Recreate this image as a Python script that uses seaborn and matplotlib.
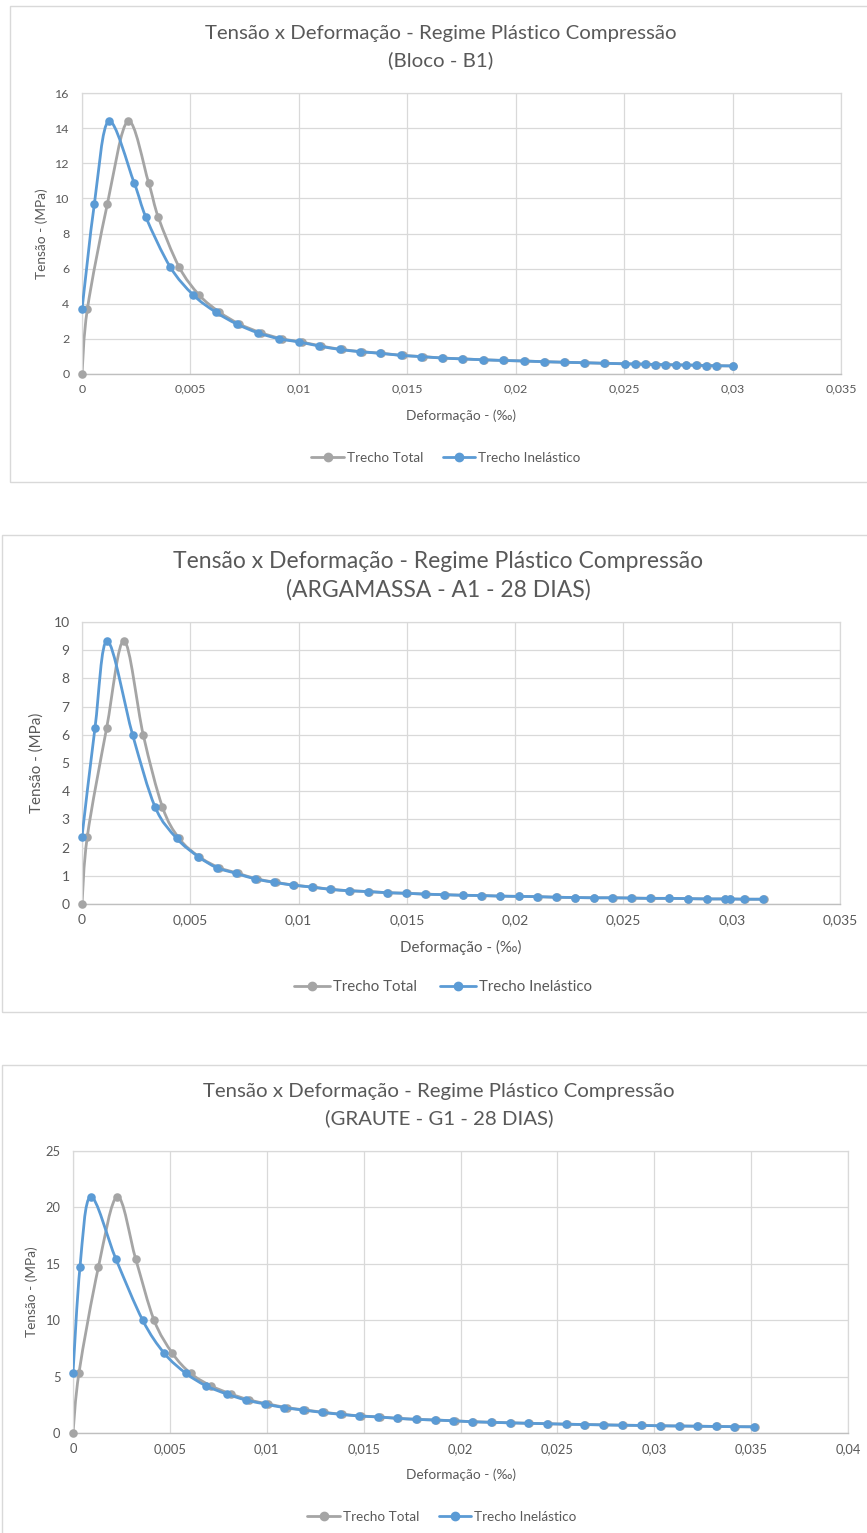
import numpy as np
import matplotlib
matplotlib.use("Agg")
import matplotlib.pyplot as plt
from matplotlib.path import Path
from matplotlib.patches import PathPatch, Rectangle
from matplotlib.lines import Line2D
from matplotlib.ticker import FuncFormatter, MultipleLocator
import seaborn as sns

# ---------------- data ----------------
titles = [
    "Tensão x Deformação - Regime Plástico Compressão\n(Bloco - B1)",
    "Tensão x Deformação - Regime Plástico Compressão\n(ARGAMASSA - A1 - 28 DIAS)",
    "Tensão x Deformação - Regime Plástico Compressão\n(GRAUTE - G1 - 28 DIAS)",
]
series_names = ["Trecho Total", "Trecho Inelástico"]

# Bloco B1
b1_inel_x = [0, 0.00057, 0.00123, 0.0024, 0.00295, 0.00406, 0.00513, 0.00616, 0.00713, 0.0081,
             0.00907, 0.01002, 0.01094, 0.01188, 0.01282, 0.01374, 0.01471, 0.01565, 0.01659, 0.01752,
             0.01848, 0.01943, 0.02037, 0.02129, 0.02223, 0.02315, 0.02409, 0.02502, 0.0255, 0.02596,
             0.02644, 0.0269, 0.02738, 0.02784, 0.02831, 0.02877, 0.02924, 0.0300]
b1_inel_y = [3.68, 9.68, 14.4, 10.9, 8.92, 6.11, 4.5, 3.53, 2.85, 2.35,
             2.01, 1.82, 1.59, 1.40, 1.27, 1.18, 1.06, 0.99, 0.91, 0.86,
             0.81, 0.77, 0.74, 0.70, 0.67, 0.64, 0.61, 0.58, 0.57, 0.56,
             0.54, 0.53, 0.52, 0.51, 0.50, 0.48, 0.47, 0.46]
b1_total_x = [0, 0.000246, 0.00117, 0.00212, 0.00307, 0.00352, 0.00447, 0.0054, 0.00633, 0.00725,
              0.00825, 0.0092, 0.01013, 0.01104, 0.01197, 0.0129, 0.01381, 0.01478, 0.01571, 0.01665,
              0.01757, 0.01853, 0.01948, 0.02042, 0.02133, 0.02227, 0.02319, 0.02413, 0.02506, 0.02554,
              0.026, 0.02647, 0.02693, 0.02741, 0.02787, 0.02834, 0.0288, 0.02927, 0.03003]
b1_total_y = [0] + b1_inel_y

# Argamassa A1
a1_inel_x = [0, 0.0006, 0.00117, 0.00234, 0.00337, 0.00437, 0.00537, 0.00622, 0.0071, 0.00799,
             0.00887, 0.00973, 0.01061, 0.01145, 0.01233, 0.01322, 0.01409, 0.01496, 0.01584, 0.01671,
             0.01758, 0.01842, 0.0193, 0.02016, 0.02102, 0.02189, 0.02276, 0.02363, 0.02449, 0.02537,
             0.02623, 0.02709, 0.02797, 0.02884, 0.02969, 0.02992, 0.03059, 0.03146]
a1_inel_y = [2.39, 6.25, 9.33, 5.99, 3.45, 2.33, 1.68, 1.29, 1.09, 0.89,
             0.77, 0.67, 0.60, 0.52, 0.47, 0.44, 0.40, 0.38, 0.35, 0.33,
             0.31, 0.30, 0.28, 0.27, 0.26, 0.24, 0.23, 0.22, 0.22, 0.21,
             0.20, 0.20, 0.19, 0.18, 0.18, 0.18, 0.17, 0.17]
a1_total_x = [0, 0.000245, 0.00114, 0.00194, 0.00283, 0.00371, 0.00448, 0.0054, 0.00633, 0.0072,
              0.00807, 0.00894, 0.00979, 0.01066, 0.0115, 0.01237, 0.01326, 0.01413, 0.01499, 0.01587,
              0.01674, 0.01761, 0.01845, 0.01932, 0.02018, 0.02104, 0.02191, 0.02278, 0.02365, 0.02451,
              0.02539, 0.02625, 0.02711, 0.02799, 0.02886, 0.02971, 0.02994, 0.03061, 0.03148]
a1_total_y = [0] + a1_inel_y

# Graute G1
g1_inel_x = [0, 0.00036, 0.00091, 0.00222, 0.00359, 0.00471, 0.00583, 0.00685, 0.00793, 0.00891,
             0.00991, 0.01089, 0.01186, 0.01284, 0.01378, 0.01476, 0.01576, 0.01671, 0.01769, 0.01867,
             0.01963, 0.02058, 0.02156, 0.02256, 0.0235, 0.02448, 0.02545, 0.02639, 0.02737, 0.02835,
             0.02932, 0.0303, 0.03128, 0.03222, 0.03319, 0.03413, 0.03516]
g1_inel_y = [5.35, 14.69, 20.95, 15.4, 10.02, 7.07, 5.29, 4.2, 3.46, 2.93,
             2.57, 2.25, 2.04, 1.83, 1.66, 1.51, 1.42, 1.30, 1.21, 1.15,
             1.08, 1.00, 0.95, 0.90, 0.86, 0.82, 0.78, 0.75, 0.72, 0.69,
             0.67, 0.64, 0.62, 0.60, 0.58, 0.56, 0.55]
g1_total_x = [0, 0.00031, 0.00131, 0.00229, 0.00324, 0.00418, 0.00513, 0.00607, 0.0071, 0.00815,
              0.0091, 0.01008, 0.01104, 0.01199, 0.01296, 0.01389, 0.01486, 0.01585, 0.01679, 0.01777,
              0.01874, 0.0197, 0.02065, 0.02162, 0.02262, 0.02356, 0.02453, 0.0255, 0.02644, 0.02742,
              0.0284, 0.02936, 0.03034, 0.03132, 0.03226, 0.03323, 0.03417, 0.0352]
g1_total_y = [0] + g1_inel_y

y_max = [16, 10, 25]
y_step = [2, 1, 5]
x_max = [0.035, 0.035, 0.04]

# ---------------- style ----------------
sns.set_theme(style="white")
plt.rcParams["font.family"] = ["Lato", "DejaVu Sans"]

W, H = 867, 1533
fig = plt.figure(figsize=(W / 100, H / 100), dpi=100)
fig.patch.set_facecolor("white")

BLUE = "#5B9BD5"
GRAY = "#A5A5A5"
TXT = "#595959"
GRID = "#D9D9D9"


def fx(px):
    return px / W


def fy(py):
    return 1 - py / H


def smooth_path(x, y):
    pts = np.column_stack([x, y]).astype(float)
    n = len(pts)
    verts = [pts[0]]
    codes = [Path.MOVETO]
    for i in range(n - 1):
        p0 = pts[i - 1] if i > 0 else pts[i]
        p1 = pts[i]
        p2 = pts[i + 1]
        p3 = pts[i + 2] if i + 2 < n else pts[i + 1]
        c1 = p1 + (p2 - p0) / 6.0
        c2 = p2 - (p3 - p1) / 6.0
        verts += [c1, c2, p2]
        codes += [Path.CURVE4] * 3
    return Path(np.array(verts), codes)


panels = [
    dict(data=(b1_total_x, b1_total_y, b1_inel_x, b1_inel_y),
         ax=(82, 93, 841, 374), border=(10, 6, 880, 482),
         title_y=(33, 60), title_x=441, title_fs=14.7, tick_fs=8.9, lab_fs=9.8,
         xlab_y=416, ylab_x=42, leg=(446, 458), leg_fs=9.7),
    dict(data=(a1_total_x, a1_total_y, a1_inel_x, a1_inel_y),
         ax=(82, 622, 840, 904), border=(2, 535, 880, 1012),
         title_y=(562, 590), title_x=438, title_fs=16.5, tick_fs=10.0, lab_fs=10.9,
         xlab_y=947, ylab_x=37, leg=(443, 987), leg_fs=10.8),
    dict(data=(g1_total_x, g1_total_y, g1_inel_x, g1_inel_y),
         ax=(73, 1151, 848, 1433), border=(2, 1065, 880, 1560),
         title_y=(1092, 1118), title_x=439, title_fs=14.7, tick_fs=9.3, lab_fs=9.8,
         xlab_y=1475, ylab_x=32, leg=(442, 1517), leg_fs=9.7),
]

fmt = FuncFormatter(lambda v, p: ("%g" % round(v, 6)).replace(".", ","))

for k, P in enumerate(panels):
    bx0, by0, bx1, by1 = P["border"]
    fig.add_artist(Rectangle((fx(bx0), fy(by1)), fx(bx1 - bx0), (by1 - by0) / H,
                             transform=fig.transFigure, fill=False,
                             edgecolor=GRID, lw=1.0, zorder=0))
    l, t, r, b = P["ax"]
    ax = fig.add_axes([fx(l), fy(b), (r - l) / W, (b - t) / H])
    ax.set_facecolor("white")
    tx, ty, ix, iy = P["data"]

    ax.set_xlim(0, x_max[k])
    ax.set_ylim(0, y_max[k])
    ax.xaxis.set_major_locator(MultipleLocator(0.005))
    ax.yaxis.set_major_locator(MultipleLocator(y_step[k]))
    ax.xaxis.set_major_formatter(fmt)
    ax.yaxis.set_major_formatter(fmt)
    ax.grid(True, color=GRID, lw=0.9)
    ax.set_axisbelow(True)
    for s in ["top", "right", "left"]:
        ax.spines[s].set_color(GRID)
        ax.spines[s].set_linewidth(0.9)
    ax.spines["bottom"].set_color("#BFBFBF")
    ax.spines["bottom"].set_linewidth(1.0)
    ax.tick_params(axis="x", length=0, colors=TXT, labelsize=P["tick_fs"], pad=7)
    ax.tick_params(axis="y", length=0, colors=TXT, labelsize=P["tick_fs"], pad=9)

    # smooth lines (Excel-style)
    for xs, ys, col, z in [(tx, ty, GRAY, 2), (ix, iy, BLUE, 4)]:
        ax.add_patch(PathPatch(smooth_path(xs, ys), fill=False, edgecolor=col,
                               lw=2.0, zorder=z, capstyle="round", joinstyle="round"))
    sns.scatterplot(x=tx, y=ty, ax=ax, color=GRAY, s=38, edgecolor=GRAY,
                    linewidth=0, zorder=3, clip_on=False, legend=False)
    sns.scatterplot(x=ix, y=iy, ax=ax, color=BLUE, s=38, edgecolor=BLUE,
                    linewidth=0, zorder=5, clip_on=False, legend=False)
    ax.set_xlabel("")
    ax.set_ylabel("")

    # titles and labels
    line1, line2 = titles[k].split("\n")
    fig.text(fx(P["title_x"]), fy(P["title_y"][0]), line1, ha="center", va="center",
             fontsize=P["title_fs"], color=TXT)
    fig.text(fx(P["title_x"]), fy(P["title_y"][1]), line2, ha="center", va="center",
             fontsize=P["title_fs"], color=TXT)
    fig.text(fx((l + r) / 2), fy(P["xlab_y"]), "Deformação - (‰)", ha="center", va="center",
             fontsize=P["lab_fs"], color=TXT)
    fig.text(fx(P["ylab_x"]), fy((t + b) / 2), "Tensão - (MPa)", ha="center", va="center",
             rotation=90, fontsize=P["lab_fs"], color=TXT)

    handles = [Line2D([], [], color=GRAY, lw=2.0, marker="o", ms=6),
               Line2D([], [], color=BLUE, lw=2.0, marker="o", ms=6)]
    fig.legend(handles, series_names, loc="center",
               bbox_to_anchor=(fx(P["leg"][0]), fy(P["leg"][1])), ncol=2,
               frameon=False, fontsize=P["leg_fs"], handlelength=2.4,
               columnspacing=1.5, handletextpad=0.2, labelcolor=TXT)

fig.savefig("out.png", dpi=100, facecolor="white")
